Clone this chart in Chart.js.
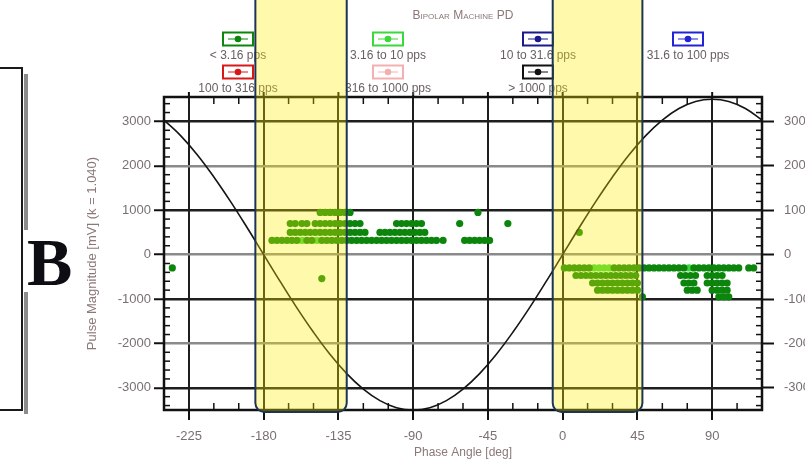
<!DOCTYPE html>
<html>
<head>
<meta charset="utf-8">
<script src="https://cdn.jsdelivr.net/npm/chart.js@4.4.1/dist/chart.umd.min.js"></script>
<style>
  html, body { margin: 0; padding: 0; background: #fff; overflow: hidden; width: 805px; height: 465px; }
  canvas { display: block; }
</style>
</head>
<body>
<canvas id="pd" width="840" height="465"></canvas>
<script>
// Repetition-rate classes shown in the legend
const rateClasses = ['< 3.16 pps', '3.16 to 10 pps', '10 to 31.6 pps', '31.6 to 100 pps',
                     '100 to 316 pps', '316 to 1000 pps', '> 1000 pps'];
const rateColors = ['#0c850c', '#3ad83a', '#1a1a8c', '#2323d6', '#d81818', '#f4b0b0', '#111111'];

const phaseTicks = [-225, -180, -135, -90, -45, 0, 45, 90];
const magnitudeTicks = [-3000, -2000, -1000, 0, 1000, 2000, 3000];

// < 3.16 pps: phase angles [deg] of the pulses found at each magnitude level [mV]
const slowAt950 = [-146, -143, -140, -137, -134, -131, -128, -51];
const slowAt700 = [-164, -161, -157, -154, -149, -146, -143, -140, -137, -134, -131, -128, -125, -122,
                   -100, -97, -94, -91, -88, -85, -62, -33];
const slowAt500 = [-164, -161, -158, -155, -152, -149, -146, -143, -140, -137, -134, -131, -128, -125, -122, -119,
                   -110, -107, -104, -101, -98, -95, -92, -89, -86, -83, 10];
const slowAt320 = [-175, -172, -169, -166, -163, -160, -154, -151, -145, -142, -139, -136, -133, -130, -127,
                   -124, -121, -118, -115, -112, -109, -106, -103, -100, -97, -94, -91, -88, -85, -82, -79, -76,
                   -72, -59, -56, -53, -50, -47, -44];
const slowAtMinus300 = [-235, 1, 4, 7, 10, 13, 16, 31, 34, 37, 40, 43, 46, 49, 52, 55, 58, 61, 64, 67, 70, 73,
                        79, 82, 85, 88, 91, 94, 97, 100, 103, 106, 112, 115];
const slowAtMinus470 = [8, 11, 14, 17, 20, 23, 26, 29, 32, 35, 38, 41, 44, 71, 74, 77, 80, 87, 90, 93, 96];
const slowAtMinus540 = [-145];
const slowAtMinus640 = [18, 21, 24, 27, 30, 33, 36, 39, 42, 45, 73, 76, 79, 87, 90, 93, 96, 99];
const slowAtMinus800 = [21, 24, 27, 30, 33, 36, 39, 42, 45, 75, 78, 81, 90, 93, 96, 99];
const slowAtMinus950 = [48, 94, 97, 100];

// 3.16 to 10 pps: [phase deg, magnitude mV]
const mediumPulses = [[-157, 320], [-148, 320], [19, -300], [22, -300], [25, -300], [28, -300], [76, -300]];

// Reference sine of the test voltage (scaled to the magnitude axis)
const refPhase = [-240, -230, -220, -210, -200, -190, -180, -170, -160, -150, -140, -130, -120, -110, -100,
                  -90, -80, -70, -60, -50, -40, -30, -20, -10, 0, 10, 20, 30, 40, 50, 60, 70, 80, 90, 100, 110, 120];
const refLevel = [3030, 2680, 2250, 1750, 1200, 610, 0, -610, -1200, -1750, -2250, -2680, -3030, -3290, -3450,
                  -3500, -3450, -3290, -3030, -2680, -2250, -1750, -1200, -610, 0, 610, 1200, 1750, 2250, 2680,
                  3030, 3290, 3450, 3500, 3450, 3290, 3030];

// Highlighted phase windows [deg]
const highlightPhases = [[-185, -130], [-6, 48]];

const slowRows = [
  [950, slowAt950], [700, slowAt700], [500, slowAt500], [320, slowAt320],
  [-300, slowAtMinus300], [-470, slowAtMinus470], [-540, slowAtMinus540],
  [-640, slowAtMinus640], [-800, slowAtMinus800], [-950, slowAtMinus950]
];
const slowPoints = slowRows.flatMap(([mv, phases]) => phases.map(p => ({ x: p, y: mv })));
const mediumPoints = mediumPulses.map(([p, mv]) => ({ x: p, y: mv }));
const refPoints = refPhase.map((p, i) => ({ x: p, y: refLevel[i] }));

const pointSets = [slowPoints, mediumPoints, [], [], [], [], []];

const FONT = '"Liberation Sans", Arial, sans-serif';
const TICK_COLOR = '#7a7070';
const TITLE_COLOR = '#8c7878';

const datasets = [{
  type: 'line',
  label: 'reference',
  data: refPoints,
  borderColor: '#141414',
  borderWidth: 1.6,
  pointRadius: 0,
  tension: 0.4,
  fill: false
}].concat(rateClasses.map((name, i) => ({
  type: 'scatter',
  label: name,
  data: pointSets[i],
  backgroundColor: rateColors[i],
  borderColor: rateColors[i],
  borderWidth: 0,
  pointRadius: 3.6,
  isRateClass: true
})));

function seg(ctx, x0, y0, x1, y1) {
  ctx.beginPath(); ctx.moveTo(x0, y0); ctx.lineTo(x1, y1); ctx.stroke();
}

const decorPlugin = {
  id: 'decor',
  afterDraw(chart) {
    const { ctx, chartArea: a, scales: { x, y } } = chart;
    ctx.save();

    // minor ticks along the frame
    ctx.strokeStyle = '#111';
    ctx.lineWidth = 1.5;
    for (let v = -3400; v <= 3400; v += 200) {
      if (v % 1000 === 0) continue;
      const py = y.getPixelForValue(v);
      seg(ctx, a.left, py, a.left + 6, py);
      seg(ctx, a.right - 6, py, a.right, py);
    }
    for (let d = -225; d <= 105; d += 15) {
      if (d % 45 === 0) continue;
      const px = x.getPixelForValue(d);
      seg(ctx, px, a.bottom, px, a.bottom - 7);
      seg(ctx, px, a.top, px, a.top + 7);
    }
    ctx.lineWidth = 2;
    phaseTicks.forEach(d => {
      const px = x.getPixelForValue(d);
      seg(ctx, px, a.top, px, a.top - 5);
    });

    // plot frame
    ctx.strokeStyle = '#111';
    ctx.lineWidth = 2.5;
    ctx.strokeRect(a.left, a.top, a.right - a.left, a.bottom - a.top);

    // title
    const cx = (a.left + a.right) / 2;
    ctx.fillStyle = TITLE_COLOR;
    ctx.font = 'small-caps 12px ' + FONT;
    ctx.textAlign = 'center';
    ctx.textBaseline = 'middle';
    ctx.fillText('Bipolar Machine PD', cx, 16);

    // legend: icon above label, four columns
    chart.data.datasets.forEach((ds, idx) => {
      if (!ds.isRateClass) return;
      const i = idx - 1;
      const col = i % 4, row = Math.floor(i / 4);
      const lx = a.left + 74 + 150 * col;
      const iy = 39 + 33 * row;
      ctx.fillStyle = '#fff';
      ctx.fillRect(lx - 15, iy - 6.5, 30, 13);
      ctx.strokeStyle = ds.borderColor;
      ctx.lineWidth = 2;
      ctx.strokeRect(lx - 15, iy - 6.5, 30, 13);
      ctx.lineWidth = 1;
      seg(ctx, lx - 10, iy, lx + 10, iy);
      ctx.fillStyle = ds.backgroundColor;
      ctx.beginPath(); ctx.arc(lx, iy, 3.3, 0, Math.PI * 2); ctx.fill();
      ctx.fillStyle = '#6a6060';
      ctx.font = '12px ' + FONT;
      ctx.textAlign = 'center';
      ctx.textBaseline = 'middle';
      ctx.fillText(ds.label, lx, iy + 17);
    });

    // neighbouring panel edge and panel letter
    ctx.fillStyle = '#8c8c8c';
    ctx.fillRect(24, 74, 4, 156);
    ctx.fillRect(24, 292, 4, 122);
    ctx.strokeStyle = '#1a1a1a';
    ctx.lineWidth = 2;
    ctx.beginPath();
    ctx.moveTo(0, 68); ctx.lineTo(22, 68); ctx.lineTo(22, 410); ctx.lineTo(0, 410);
    ctx.stroke();
    ctx.fillStyle = '#0d0d14';
    ctx.font = 'bold 68px "Liberation Serif", "DejaVu Serif", serif';
    ctx.textAlign = 'left';
    ctx.textBaseline = 'alphabetic';
    ctx.fillText('B', 27, 285);

    // highlighted phase windows
    highlightPhases.forEach(([p0, p1]) => {
      const x0 = x.getPixelForValue(p0), x1 = x.getPixelForValue(p1);
      const top = -4, bot = a.bottom + 2, r = 9;
      ctx.beginPath();
      ctx.moveTo(x0, top);
      ctx.lineTo(x0, bot - r);
      ctx.arcTo(x0, bot, x0 + r, bot, r);
      ctx.lineTo(x1 - r, bot);
      ctx.arcTo(x1, bot, x1, bot - r, r);
      ctx.lineTo(x1, top);
      ctx.fillStyle = 'rgba(255, 236, 0, 0.33)';
      ctx.fill();
      ctx.strokeStyle = '#1c3554';
      ctx.lineWidth = 2;
      ctx.stroke();
    });

    ctx.restore();
  }
};

const tickFont = { family: FONT, size: 13 };
const fixedTicks = values => scale => { scale.ticks = values.map(v => ({ value: v })); };

new Chart(document.getElementById('pd'), {
  type: 'scatter',
  data: { datasets },
  options: {
    responsive: false,
    animation: false,
    devicePixelRatio: 1,
    layout: { padding: { left: 80, top: 97, right: 0, bottom: 0 } },
    plugins: { legend: { display: false }, title: { display: false }, tooltip: { enabled: false } },
    scales: {
      x: {
        type: 'linear', min: -240, max: 120,
        afterBuildTicks: fixedTicks(phaseTicks),
        afterFit: s => { s.height = 55; },
        border: { display: false },
        grid: { color: '#1e1e1e', lineWidth: 2, tickLength: 10, tickColor: '#111', tickWidth: 2 },
        ticks: { color: TICK_COLOR, font: tickFont, padding: 9, maxRotation: 0, autoSkip: false,
                 callback: v => String(v) },
        title: { display: true, text: 'Phase Angle [deg]', color: TITLE_COLOR,
                 font: { family: FONT, size: 12 }, padding: { top: 0, bottom: 5 } }
      },
      y: {
        type: 'linear', position: 'left', min: -3500, max: 3550,
        afterBuildTicks: fixedTicks(magnitudeTicks),
        afterFit: s => { s.width = 84; },
        border: { display: false },
        grid: {
          color: c => (c.tick && c.tick.value % 2000 === 0) ? '#8a8a8a' : '#1e1e1e',
          lineWidth: 2.5, tickLength: 10, tickColor: '#111', tickWidth: 2
        },
        ticks: { color: TICK_COLOR, font: tickFont, padding: 3, autoSkip: false, callback: v => String(v) },
        title: { display: true, text: 'Pulse Magnitude [mV] (k = 1.040)', color: TITLE_COLOR,
                 font: { family: FONT, size: 13 }, padding: { top: 5, bottom: 0 } }
      },
      y2: {
        type: 'linear', position: 'right', min: -3500, max: 3550,
        afterBuildTicks: fixedTicks(magnitudeTicks),
        afterFit: s => { s.width = 78; },
        border: { display: false },
        grid: { drawOnChartArea: false, tickLength: 12, tickColor: '#111', tickWidth: 2 },
        ticks: { color: TICK_COLOR, font: tickFont, padding: 10, autoSkip: false, callback: v => String(v) }
      }
    }
  },
  plugins: [decorPlugin]
});
</script>
</body>
</html>
